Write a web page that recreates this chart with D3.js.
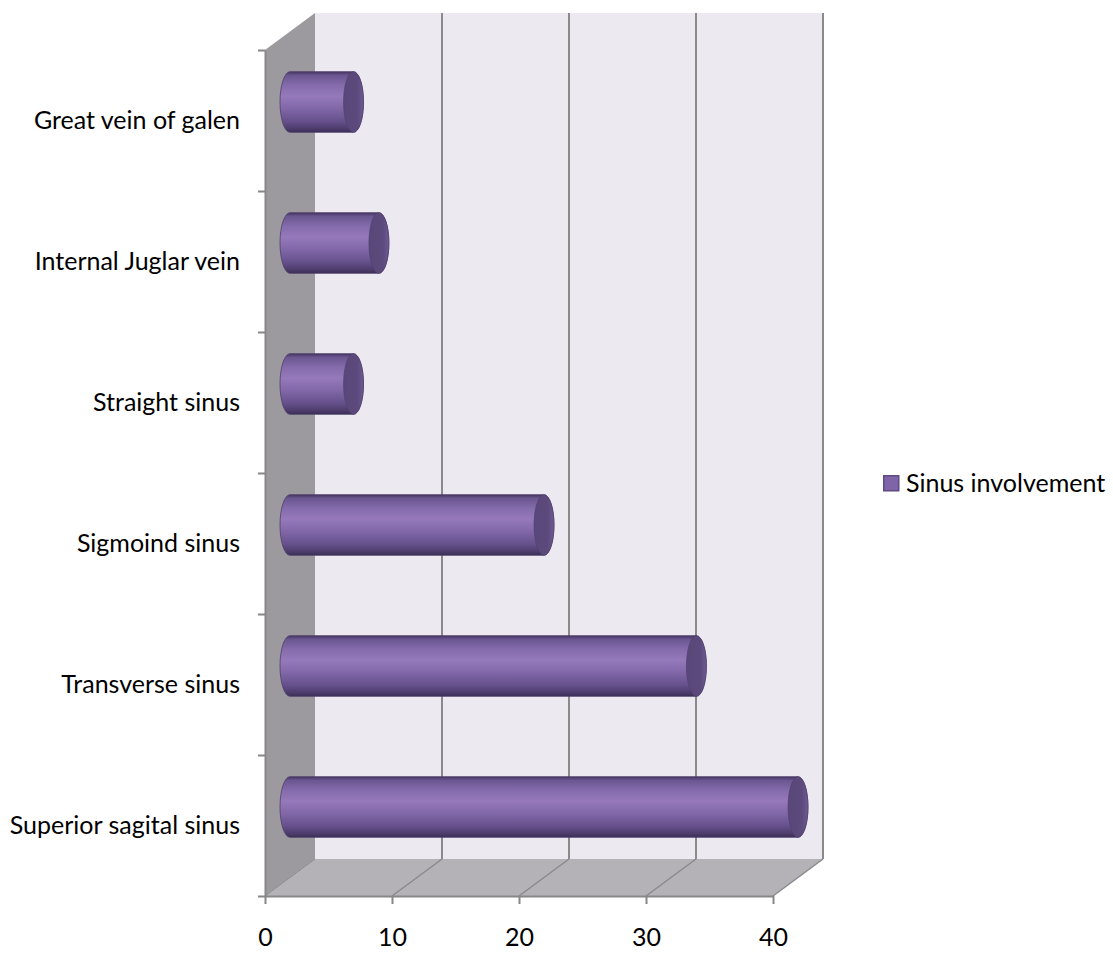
<!DOCTYPE html>
<html>
<head>
<meta charset="utf-8">
<script src="https://cdn.jsdelivr.net/npm/d3@7"></script>
<style>
  body { margin: 0; background: #fff; }
  text { font-family: Lato, "Open Sans", sans-serif; }
</style>
</head>
<body>
<div id="chart"></div>
<script>
// categories listed top to bottom, as they appear on the chart
var categories = [
  "Great vein of galen",
  "Internal Juglar vein",
  "Straight sinus",
  "Sigmoind sinus",
  "Transverse sinus",
  "Superior sagital sinus"
];
var values = [5, 7, 5, 20, 32, 40];
var xTicks = [0, 10, 20, 30, 40];
var seriesName = "Sinus involvement";

var width = 1113, height = 954;
var depthX = 50, depthY = -37;   // shift of the back plane
var fontSize = 25;

var svg = d3.select("#chart")
  .append("svg")
    .attr("width", width)
    .attr("height", height);

var x = d3.scaleLinear().domain([0, 40]).range([265, 773]);
var y = d3.scaleBand().domain(categories).range([50, 896]);
var yEdge = d3.scaleLinear().domain([0, categories.length]).range([50, 896]);

var x0 = x(0), x1 = x(40), yTop = y.range()[0], yBot = y.range()[1];

// gradient for the cylinder body
var defs = svg.append("defs");
var grad = defs.append("linearGradient")
    .attr("id", "tube")
    .attr("x1", 0).attr("y1", 0).attr("x2", 0).attr("y2", 1);
[
  [0, "#45355f"], [0.06, "#6a5690"], [0.22, "#846bab"], [0.4, "#9579bb"],
  [0.6, "#8268a9"], [0.82, "#65508b"], [0.95, "#4a3a68"], [1, "#3b2d52"]
].forEach((s) => {
  grad.append("stop").attr("offset", s[0]).attr("stop-color", s[1]);
});
var capGrad = defs.append("linearGradient")
    .attr("id", "cap")
    .attr("x1", 0).attr("y1", 0).attr("x2", 1).attr("y2", 0);
capGrad.append("stop").attr("offset", 0).attr("stop-color", "#5a4779");
capGrad.append("stop").attr("offset", 0.7).attr("stop-color", "#5c4a7d");
capGrad.append("stop").attr("offset", 1).attr("stop-color", "#6d5a92");

function poly(pts) {
  return "M" + pts.map((p) => p[0] + "," + p[1]).join("L") + "Z";
}

// walls and floor
svg.append("path")
  .attr("d", poly([[x0 + depthX, yTop + depthY], [x1 + depthX, yTop + depthY],
                   [x1 + depthX, yBot + depthY], [x0 + depthX, yBot + depthY]]))
  .attr("fill", "#ece9f1");
svg.append("path")
  .attr("d", poly([[x0, yTop], [x0 + depthX, yTop + depthY],
                   [x0 + depthX, yBot + depthY], [x0, yBot]]))
  .attr("fill", "#9c9a9e");
svg.append("path")
  .attr("d", poly([[x0, yBot], [x0 + depthX, yBot + depthY],
                   [x1 + depthX, yBot + depthY], [x1, yBot]]))
  .attr("fill", "#b4b2b6");

// gridlines on the back wall and across the floor
var grid = svg.append("g")
    .attr("stroke", "#8a8a8a")
    .attr("stroke-width", 2);
grid.selectAll("line.back")
  .data(xTicks.filter((d) => d > 0))
  .enter().append("line")
    .attr("class", "back")
    .attr("x1", (d) => x(d) + depthX).attr("x2", (d) => x(d) + depthX)
    .attr("y1", yTop + depthY).attr("y2", yBot + depthY);
grid.selectAll("line.floor")
  .data(xTicks)
  .enter().append("line")
    .attr("class", "floor")
    .attr("stroke-width", (d) => d == 0 ? 1 : 1.5)
    .attr("x1", (d) => x(d)).attr("y1", yBot)
    .attr("x2", (d) => x(d) + depthX).attr("y2", yBot + depthY);

// cylinders sit half way into the depth
var rx = 10;
var ry = y.bandwidth() * 0.215;

function body(d, i) {
  var cy = y(categories[i]) + y.bandwidth() / 2 + depthY / 2;
  var a = x(0) + depthX / 2, b = x(d) + depthX / 2;
  return "M" + a + "," + (cy - ry)
    + " L" + b + "," + (cy - ry)
    + " A" + rx + "," + ry + " 0 0 1 " + b + "," + (cy + ry)
    + " L" + a + "," + (cy + ry)
    + " A" + rx + "," + ry + " 0 0 1 " + a + "," + (cy - ry) + " Z";
}

var bars = svg.append("g").selectAll("g")
  .data(values)
  .enter().append("g");

bars.append("path")
  .attr("d", body)
  .attr("fill", "url(#tube)")
  .attr("stroke", "#4e3e6c")
  .attr("stroke-width", 0.8);

bars.append("ellipse")
  .attr("cx", (d) => x(d) + depthX / 2)
  .attr("cy", (d, i) => y(categories[i]) + y.bandwidth() / 2 + depthY / 2)
  .attr("rx", rx)
  .attr("ry", ry)
  .attr("fill", "url(#cap)")
  .attr("stroke", "#4e3e6c")
  .attr("stroke-width", 0.6);

// axes
var xAxis = svg.append("g")
    .attr("transform", "translate(0," + yBot + ")")
    .call(d3.axisBottom(x).tickValues(xTicks).tickSize(8).tickSizeOuter(0).tickPadding(24));

var yTicks = svg.append("g")
    .attr("transform", "translate(" + x0 + ",0)")
    .call(d3.axisLeft(yEdge).tickValues(d3.range(categories.length + 1))
      .tickFormat("").tickSize(7).tickSizeOuter(0));

var yLabels = svg.append("g")
    .attr("transform", "translate(" + x0 + ",0)")
    .call(d3.axisLeft(y).tickSize(0).tickPadding(25));
yLabels.select(".domain").remove();

[xAxis, yTicks].forEach((g) => {
  g.selectAll(".domain, line")
    .attr("stroke", "#878787")
    .attr("stroke-width", 2);
});
[xAxis, yLabels].forEach((g) => {
  g.selectAll("text")
    .attr("font-family", "Lato, 'Open Sans', sans-serif")
    .attr("font-size", fontSize)
    .attr("fill", "#000");
});

// legend
var legend = svg.append("g").attr("transform", "translate(883,475)");
legend.append("rect")
  .attr("x", 0.75).attr("y", 0.75)
  .attr("width", 15).attr("height", 15)
  .attr("fill", "#7f64a8")
  .attr("stroke", "#5e4b80")
  .attr("stroke-width", 1.5);
legend.append("text")
  .attr("x", 23)
  .attr("y", 8)
  .attr("dy", "0.35em")
  .attr("font-size", fontSize)
  .attr("fill", "#000")
  .text(seriesName);
</script>
</body>
</html>
